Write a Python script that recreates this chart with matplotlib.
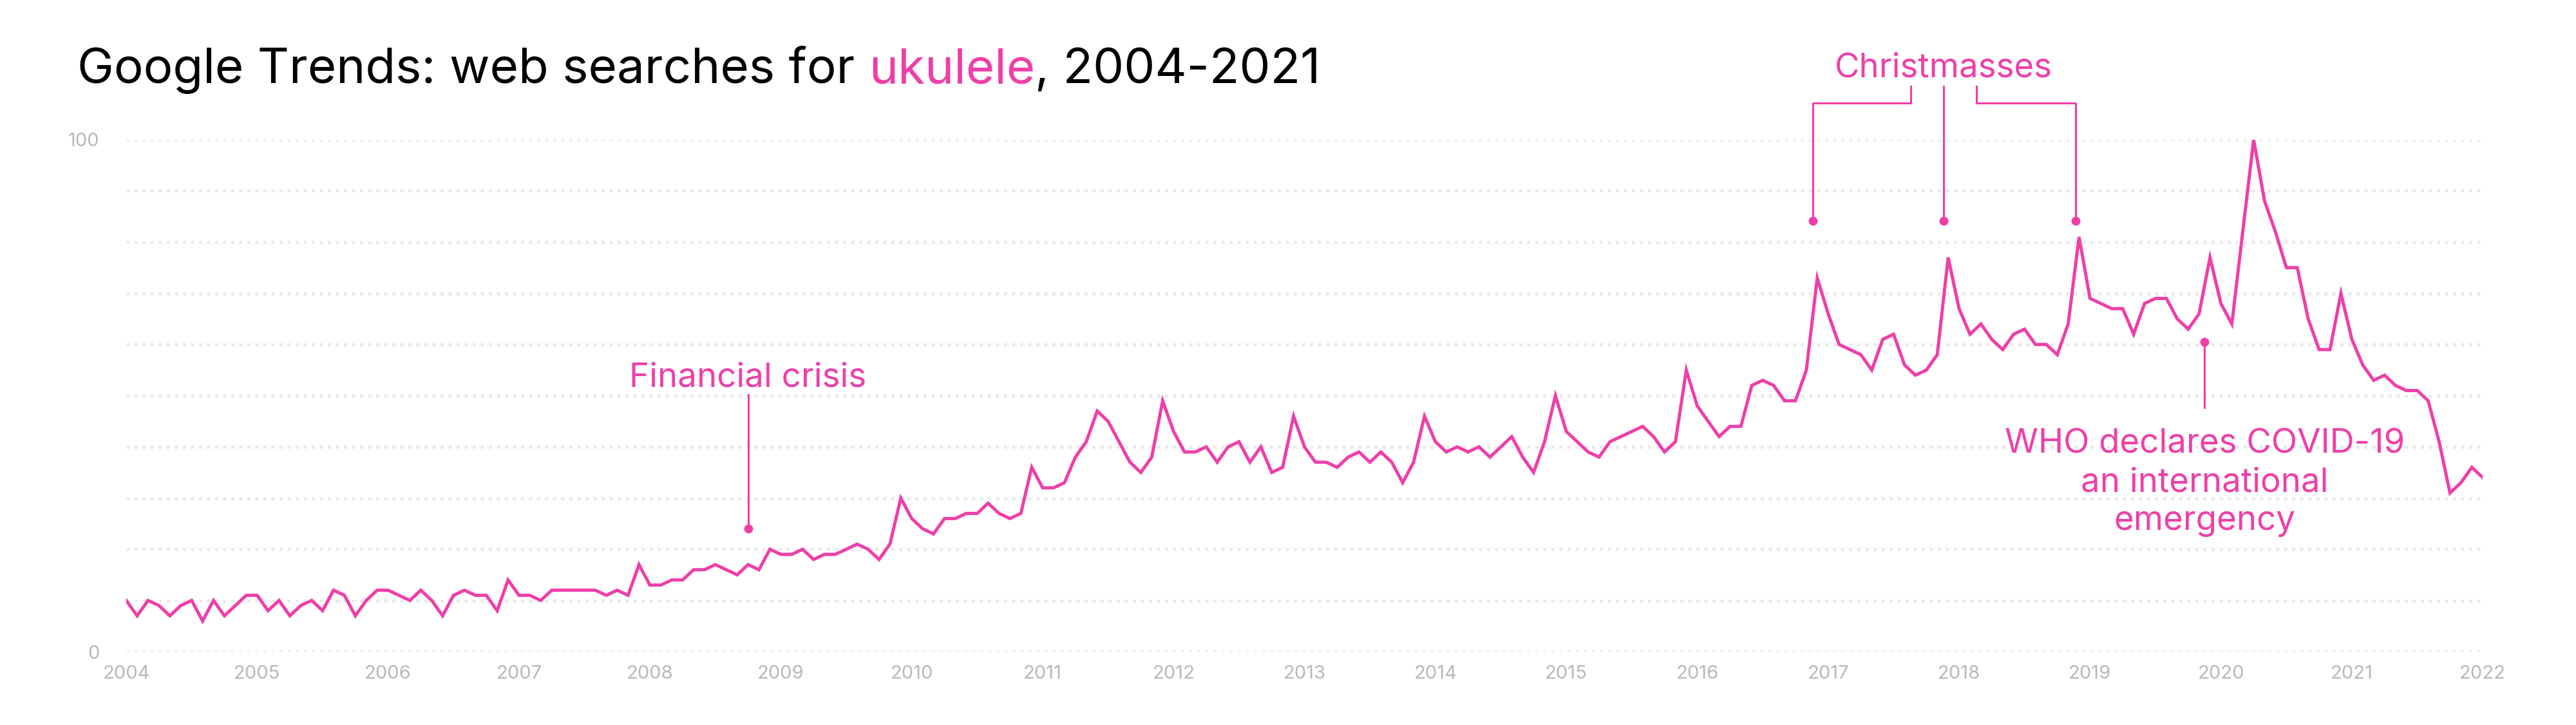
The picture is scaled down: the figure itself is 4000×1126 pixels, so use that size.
import numpy as np
import matplotlib.pyplot as plt

plt.rcParams['font.family'] = ['Inter', 'DejaVu Sans']

PINK = '#ee3fa8'
GRAY = '#b8b8b8'
GRID = '#ebebeb'

# Google Trends index for "ukulele", monthly, Jan 2004 .. Jan 2022
y2004 = [10, 7, 10, 9, 7, 9, 10, 6, 10, 7, 9, 11]
y2005 = [11, 8, 10, 7, 9, 10, 8, 12, 11, 7, 10, 12]
y2006 = [12, 11, 10, 12, 10, 7, 11, 12, 11, 11, 8, 14]
y2007 = [11, 11, 10, 12, 12, 12, 12, 12, 11, 12, 11, 17]
y2008 = [13, 13, 14, 14, 16, 16, 17, 16, 15, 17, 16, 20]
y2009 = [19, 19, 20, 18, 19, 19, 20, 21, 20, 18, 21, 30]
y2010 = [26, 24, 23, 26, 26, 27, 27, 29, 27, 26, 27, 36]
y2011 = [32, 32, 33, 38, 41, 47, 45, 41, 37, 35, 38, 49]
y2012 = [43, 39, 39, 40, 37, 40, 41, 37, 40, 35, 36, 46]
y2013 = [40, 37, 37, 36, 38, 39, 37, 39, 37, 33, 37, 46]
y2014 = [41, 39, 40, 39, 40, 38, 40, 42, 38, 35, 41, 50]
y2015 = [43, 41, 39, 38, 41, 42, 43, 44, 42, 39, 41, 55]
y2016 = [48, 45, 42, 44, 44, 52, 53, 52, 49, 49, 55, 73]
y2017 = [66, 60, 59, 58, 55, 61, 62, 56, 54, 55, 58, 77]
y2018 = [67, 62, 64, 61, 59, 62, 63, 60, 60, 58, 64, 81]
y2019 = [69, 68, 67, 67, 62, 68, 69, 69, 65, 63, 66, 77]
y2020 = [68, 64, 82, 100, 88, 82, 75, 75, 65, 59, 59, 70]
y2021 = [61, 56, 53, 54, 52, 51, 51, 49, 41, 31, 33, 36]
y2022 = [34]

interest = (y2004 + y2005 + y2006 + y2007 + y2008 + y2009 + y2010 + y2011 +
            y2012 + y2013 + y2014 + y2015 + y2016 + y2017 + y2018 + y2019 +
            y2020 + y2021 + y2022)
dates = 2004 + np.arange(len(interest)) / 12

years = list(range(2004, 2023))
yticks = list(range(0, 101, 10))

# annotations (x in years, y in index units)
crisis_x, crisis_dot, crisis_top, crisis_text = 2008.75, 24, 50.2, 51.8
xmas_x = [2016.883, 2017.883, 2018.892]
xmas_dot, xmas_bar, xmas_tick, xmas_text = 84.2, 107.2, 110.4, 112.3
xmas_inner = [2017.633, 2018.133]
who_x, who_dot, who_bottom = 2019.875, 60.5, 47.7
who_lines = ['WHO declares COVID-19', 'an international', 'emergency']
who_baselines = [38.8, 31.3, 23.8]

fig = plt.figure(figsize=(40, 11.26), dpi=100)
ax = fig.add_axes([0.049, 0.1012, 0.9148, 0.7061])

ax.plot(dates, interest, color=PINK, linewidth=3.6, solid_joinstyle='miter', zorder=3)

ax.set_xlim(2004, 2022)
ax.set_ylim(0, 100)
ax.set_xticks(years)
ax.set_xticklabels([str(y) for y in years])
ax.set_yticks(yticks)
ax.set_yticklabels(['0'] + [''] * 9 + ['100'])
ax.tick_params(axis='x', length=0, pad=15, labelsize=21, labelcolor=GRAY)
ax.tick_params(axis='y', length=0, pad=30, labelsize=21, labelcolor=GRAY)
ax.grid(axis='y', color=GRID, linewidth=3.6, linestyle=(0, (1, 1.5)))
ax.set_axisbelow(True)
for s in ax.spines.values():
    s.set_visible(False)

lw = 2.2
ms = 9
afs = 38

# financial crisis
ax.plot([crisis_x, crisis_x], [crisis_dot, crisis_top], color=PINK, lw=lw, clip_on=False)
ax.plot(crisis_x, crisis_dot, 'o', color=PINK, ms=ms, clip_on=False)
ax.text(crisis_x, crisis_text, 'Financial crisis', color=PINK, fontsize=afs,
        ha='center', va='baseline')

# christmasses bracket
ax.plot([xmas_x[0], xmas_x[0], xmas_inner[0], xmas_inner[0]],
        [xmas_dot, xmas_bar, xmas_bar, xmas_tick], color=PINK, lw=lw, clip_on=False)
ax.plot([xmas_x[1], xmas_x[1]], [xmas_dot, xmas_tick], color=PINK, lw=lw, clip_on=False)
ax.plot([xmas_inner[1], xmas_inner[1], xmas_x[2], xmas_x[2]],
        [xmas_tick, xmas_bar, xmas_bar, xmas_dot], color=PINK, lw=lw, clip_on=False)
ax.plot(xmas_x, [xmas_dot] * 3, 'o', color=PINK, ms=ms, clip_on=False)
ax.text(xmas_x[1], xmas_text, 'Christmasses', color=PINK, fontsize=afs,
        ha='center', va='baseline')

# covid
ax.plot([who_x, who_x], [who_dot, who_bottom], color=PINK, lw=lw, clip_on=False)
ax.plot(who_x, who_dot, 'o', color=PINK, ms=ms, clip_on=False)
for line, yb in zip(who_lines, who_baselines):
    ax.text(who_x, yb, line, color=PINK, fontsize=afs, ha='center', va='baseline')

# title in three colored pieces
title_parts = [('Google Trends: web searches for ', 'black'),
               ('ukulele', PINK),
               (', 2004-2021', 'black')]
r = fig.canvas.get_renderer()
tx = 0.03
for part, col in title_parts:
    t = fig.text(tx, 0.8854, part, fontsize=55, color=col, va='baseline', ha='left')
    bb = t.get_window_extent(renderer=r)
    tx = bb.x1 / fig.bbox.width

fig.savefig('out.png', dpi=100, facecolor='white')
